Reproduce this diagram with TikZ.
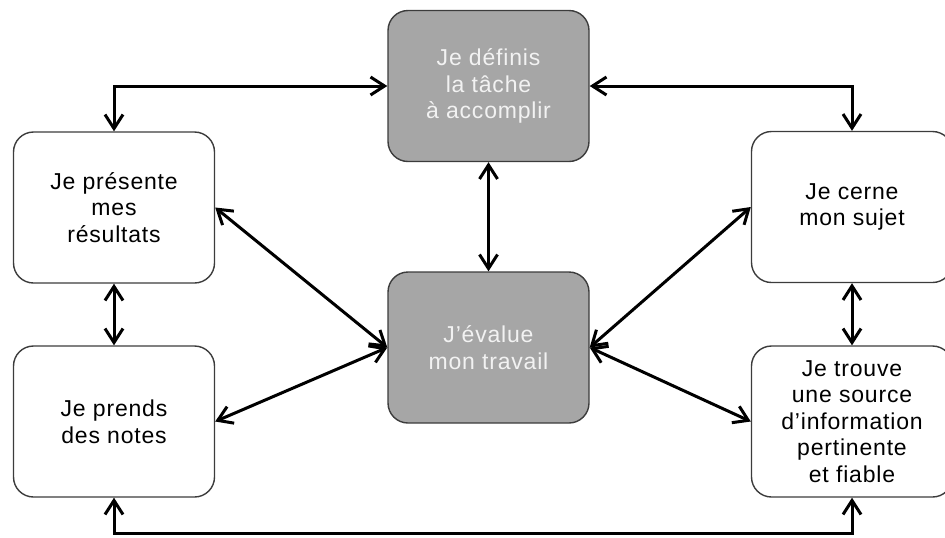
\documentclass[tikz,border=0pt]{standalone}
\usepackage{fontspec}
\setmainfont[LetterSpace=3.5]{Liberation Sans}
\usetikzlibrary{arrows.meta}

\definecolor{fondgris}{HTML}{A6A6A6}
\definecolor{bord}{HTML}{3C3C3C}
\definecolor{textegris}{HTML}{F2F2F2}

\tikzset{
    etape/.style={draw=bord, line width=0.7pt, rounded corners=10pt, fill=white,
        minimum width=100.5pt, minimum height=75.5pt, inner sep=0pt,
        align=center, font=\fontsize{11.5pt}{13.3pt}\selectfont},
    etapegrise/.style={etape, fill=fondgris, text=textegris},
    lien/.style={line width=1.5pt, {Straight Barb[length=7pt,width=9pt]}-{Straight Barb[length=7pt,width=9pt]}}
}

\begin{document}
\begin{tikzpicture}[x=0.5pt, y=-0.5pt]
    \clip (0,0) rectangle (945,537);

    \node[etapegrise] (tache)  at (488.5,86)    {Je définis\\la tâche\\à accomplir};
    \node[etapegrise] (evalue) at (488.5,347.5) {J’évalue\\mon travail};

    \node[etape] (presente) at (114,207.5) {Je présente\\mes\\résultats};
    \node[etape] (notes)    at (114,421.5) {Je prends\\des notes};

    \node[etape] (cerne)  at (852,207)   {Je cerne\\mon sujet};
    \node[etape] (trouve) at (852,421.5) {Je trouve\\une source\\d’information\\pertinente\\et fiable};

    \coordinate (bas) at (488.5,533);

    % liens du pourtour
    \draw[lien] (tache.west) -| (presente.north);
    \draw[lien] (tache.east) -| (cerne.north);
    \draw[lien] (notes.south) -- (notes.south |- bas) -| (trouve.south);
    \draw[lien] (presente.south) -- (notes.north);
    \draw[lien] (cerne.south) -- (trouve.north);

    % liens vers le centre
    \draw[lien] (tache.south) -- (evalue.north);
    \draw[lien] (presente.east) -- (evalue.west);
    \draw[lien] (notes.east) -- (evalue.west);
    \draw[lien] (cerne.west) -- (evalue.east);
    \draw[lien] (trouve.west) -- (evalue.east);
\end{tikzpicture}
\end{document}
